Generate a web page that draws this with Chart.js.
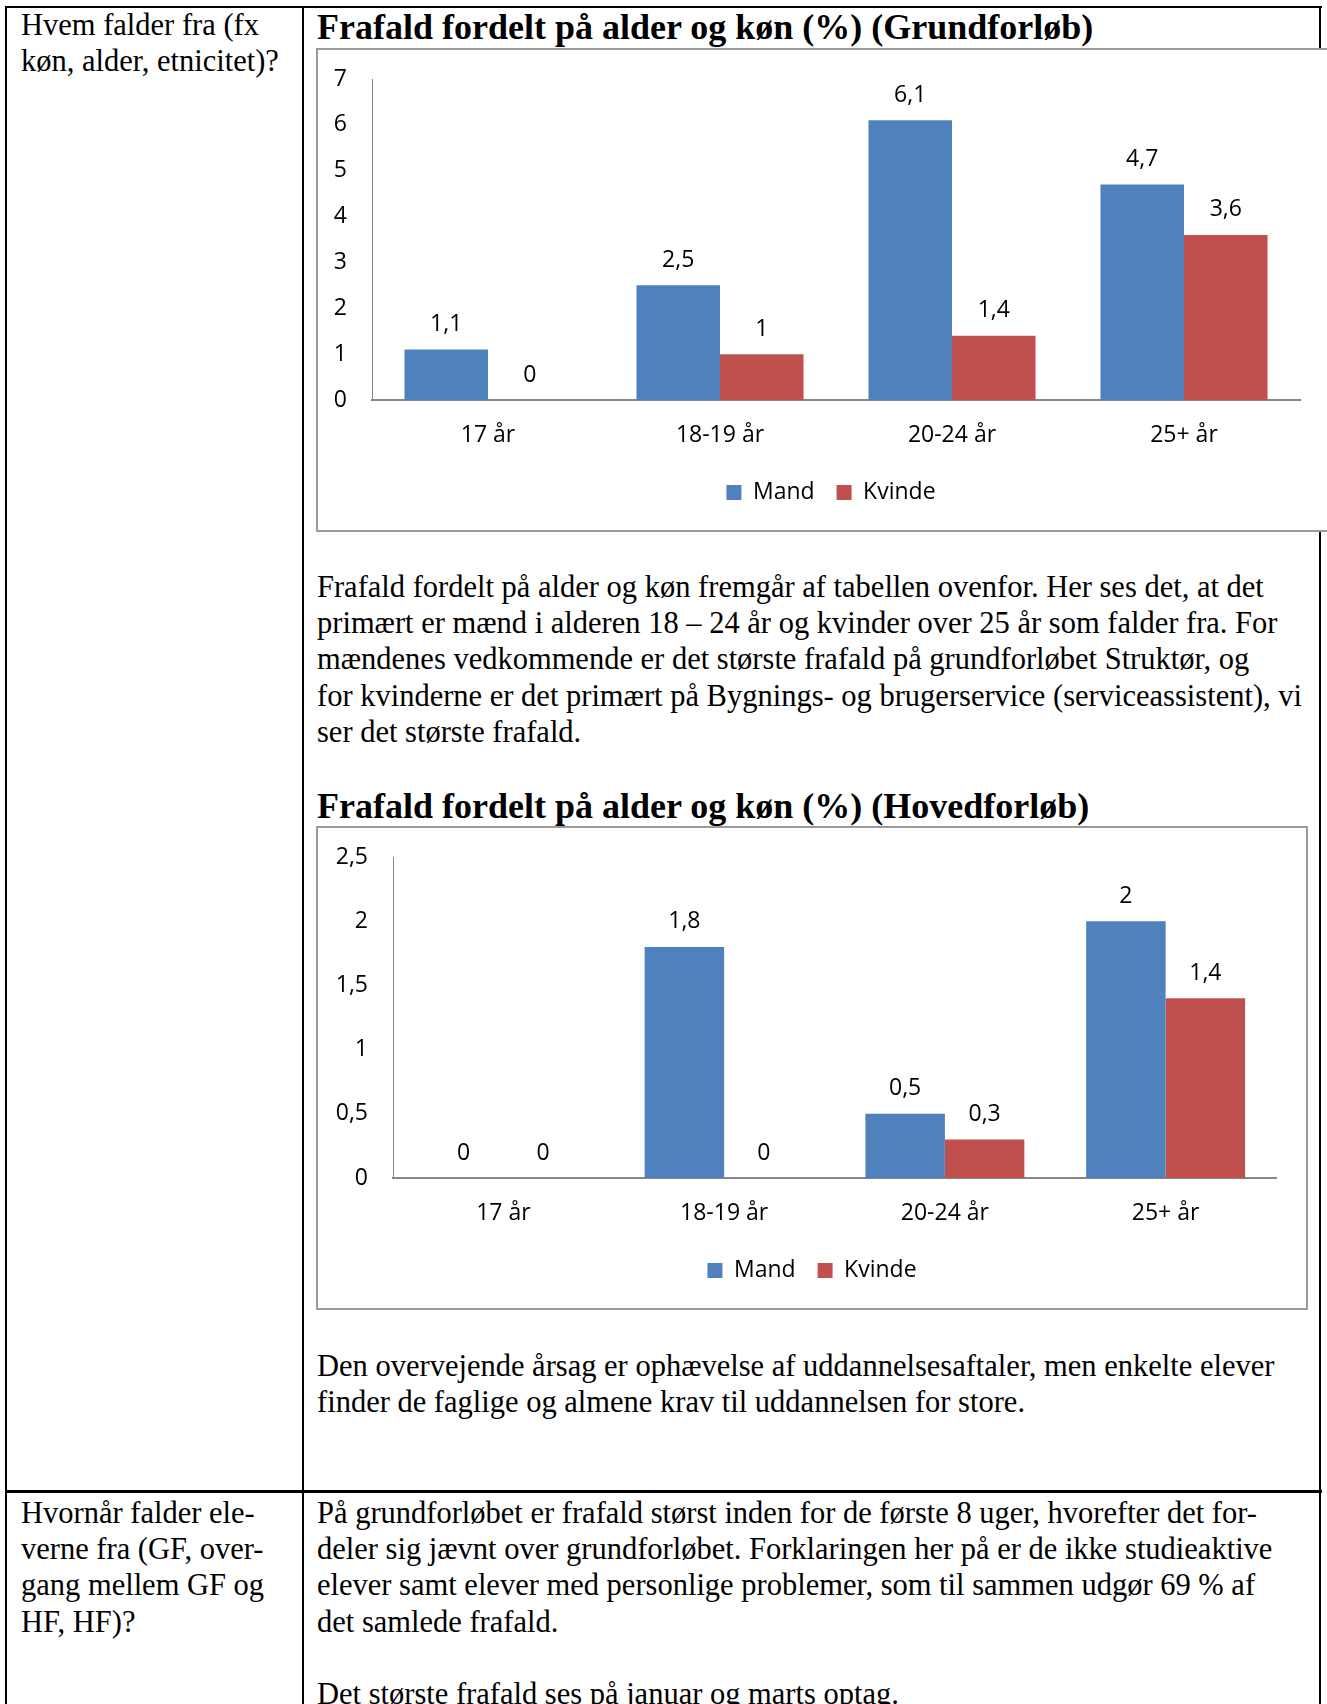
<!DOCTYPE html>
<html lang="da">
<head>
<meta charset="utf-8">
<title>Frafald fordelt på alder og køn</title>
<script src="https://cdn.jsdelivr.net/npm/chart.js@4.4.1/dist/chart.umd.min.js"></script>
<style>
    html, body {
        margin: 0;
        padding: 0;
        background: #fff;
    }
    body {
        position: relative;
        width: 1327px;
        height: 1704px;
        overflow: hidden;
        font-family: "Liberation Serif", "Times New Roman", serif;
        color: #000;
    }
    .line { position: absolute; background: #000; }
    .txt {
        position: absolute;
        font-size: 30.5px;
        line-height: 36.2px;
        white-space: nowrap;
    }
    .title {
        position: absolute;
        font-weight: bold;
        font-size: 36px;
        line-height: 40px;
        white-space: nowrap;
    }
    .box {
        position: absolute;
        box-sizing: border-box;
        border: 2px solid #9a9a9a;
        background: #fff;
    }
    .chartWrap { position: absolute; }
</style>
</head>
<body>

<!-- table lines -->
<div class="line" style="left:5px; top:6px; width:1317px; height:2px;"></div>
<div class="line" style="left:5px; top:6px; width:2px; height:1700px;"></div>
<div class="line" style="left:302px; top:6px; width:2px; height:1700px;"></div>
<div class="line" style="left:1319px; top:6px; width:2px; height:1700px;"></div>
<div class="line" style="left:5px; top:1490px; width:1317px; height:3px;"></div>

<div class="txt" style="left:21px; top:7px;">Hvem falder fra (fx<br>køn, alder, etnicitet)?</div>

<div class="title" style="left:317px; top:7px;">Frafald fordelt på alder og køn (%) (Grundforløb)</div>
<div class="box" style="left:316px; top:48px; width:1030px; height:484px;"></div>
<div class="chartWrap" style="left:318px; top:50px; width:1026px; height:480px;">
    <canvas id="grundChart"></canvas>
</div>

<div class="txt" style="left:317px; top:569px;">Frafald fordelt på alder og køn fremgår af tabellen ovenfor. Her ses det, at det<br>primært er mænd i alderen 18 – 24 år og kvinder over 25 år som falder fra. For<br>mændenes vedkommende er det største frafald på grundforløbet Struktør, og<br>for kvinderne er det primært på Bygnings- og brugerservice (serviceassistent), vi<br>ser det største frafald.</div>

<div class="title" style="left:317px; top:786px;">Frafald fordelt på alder og køn (%) (Hovedforløb)</div>
<div class="box" style="left:316px; top:826px; width:992px; height:484px;"></div>
<div class="chartWrap" style="left:318px; top:828px; width:988px; height:480px;">
    <canvas id="hovedChart"></canvas>
</div>

<div class="txt" style="left:317px; top:1348px;">Den overvejende årsag er ophævelse af uddannelsesaftaler, men enkelte elever<br>finder de faglige og almene krav til uddannelsen for store.</div>

<div class="txt" style="left:21px; top:1495px;">Hvornår falder ele-<br>verne fra (GF, over-<br>gang mellem GF og<br>HF, HF)?</div>
<div class="txt" style="left:317px; top:1495px;">På grundforløbet er frafald størst inden for de første 8 uger, hvorefter det for-<br>deler sig jævnt over grundforløbet. Forklaringen her på er de ikke studieaktive<br>elever samt elever med personlige problemer, som til sammen udgør 69 % af<br>det samlede frafald.<br><br>Det største frafald ses på januar og marts optag.</div>

<script>
// data
const ageGroups = ['17 år', '18-19 år', '20-24 år', '25+ år'];
const seriesNames = ['Mand', 'Kvinde'];
const grundMand = [1.1, 2.5, 6.1, 4.7];
const grundKvinde = [0, 1, 1.4, 3.6];
const hovedMand = [0, 1.8, 0.5, 2];
const hovedKvinde = [0, 0, 0.3, 1.4];
const grundTicks = { max: 7, step: 1 };
const hovedTicks = { max: 2.5, step: 0.5 };

const blue = '#4F81BD';
const red = '#C0504D';
const axisGrey = '#868686';
const labelFont = { family: "'Open Sans', 'Liberation Sans', sans-serif", size: 23 };

const commaNum = (v) => String(Math.round(v * 10) / 10).replace('.', ',');

// value labels above every bar
const valueLabels = {
    id: 'valueLabels',
    afterDatasetsDraw(chart) {
        const ctx = chart.ctx;
        ctx.save();
        ctx.font = labelFont.size + 'px ' + labelFont.family;
        ctx.fillStyle = '#000';
        ctx.textAlign = 'center';
        ctx.textBaseline = 'middle';
        chart.data.datasets.forEach((ds, i) => {
            chart.getDatasetMeta(i).data.forEach((bar, j) => {
                ctx.fillText(commaNum(ds.data[j]), bar.x, bar.y - 25);
            });
        });
        ctx.restore();
    }
};

function makeChart(id, mand, kvinde, ticks, yWidth, rightGap) {
    const ctx = document.getElementById(id).getContext('2d');
    return new Chart(ctx, {
        type: 'bar',
        data: {
            labels: ageGroups,
            datasets: [{
                label: seriesNames[0],
                data: mand,
                backgroundColor: blue,
                categoryPercentage: 0.72,
                barPercentage: 1
            }, {
                label: seriesNames[1],
                data: kvinde,
                backgroundColor: red,
                categoryPercentage: 0.72,
                barPercentage: 1
            }]
        },
        options: {
            responsive: true,
            maintainAspectRatio: false,
            animation: false,
            layout: {
                padding: { top: 29, left: 0, right: 0, bottom: 16 }
            },
            plugins: {
                legend: {
                    display: true,
                    position: 'bottom',
                    labels: {
                        boxWidth: 15,
                        boxHeight: 15,
                        padding: 22,
                        color: '#000',
                        font: labelFont
                    }
                },
                tooltip: { enabled: false }
            },
            scales: {
                x: {
                    grid: { display: false, drawTicks: false },
                    border: { display: true, color: axisGrey, width: 2 },
                    ticks: { color: '#000', font: labelFont, padding: 22 },
                    afterFit: (scale) => { scale.height = 59; }
                },
                y: {
                    min: 0,
                    max: ticks.max,
                    grid: { display: false, drawTicks: false },
                    border: { display: true, color: axisGrey, width: 1 },
                    ticks: {
                        stepSize: ticks.step,
                        color: '#000',
                        font: labelFont,
                        padding: 25,
                        callback: (v) => commaNum(v)
                    },
                    afterFit: (scale) => {
                        scale.width = yWidth;
                        // tick padding would otherwise push the plot top down
                        scale.paddingTop = 0;
                        scale.paddingBottom = 0;
                    }
                },
                // empty right-hand axis, only keeps space after the last bar
                spacer: {
                    position: 'right',
                    display: true,
                    grid: { display: false, drawTicks: false },
                    border: { display: false },
                    ticks: { display: false },
                    afterFit: (scale) => {
                        scale.width = rightGap;
                        scale.paddingTop = 0;
                        scale.paddingBottom = 0;
                    }
                }
            }
        },
        plugins: [valueLabels]
    });
}

document.addEventListener('DOMContentLoaded', () => {
    // Initialize Grundforløb chart
    makeChart('grundChart', grundMand, grundKvinde, grundTicks, 54, 44);
    // Initialize Hovedforløb chart
    makeChart('hovedChart', hovedMand, hovedKvinde, hovedTicks, 75, 30);
});
</script>
</body>
</html>
